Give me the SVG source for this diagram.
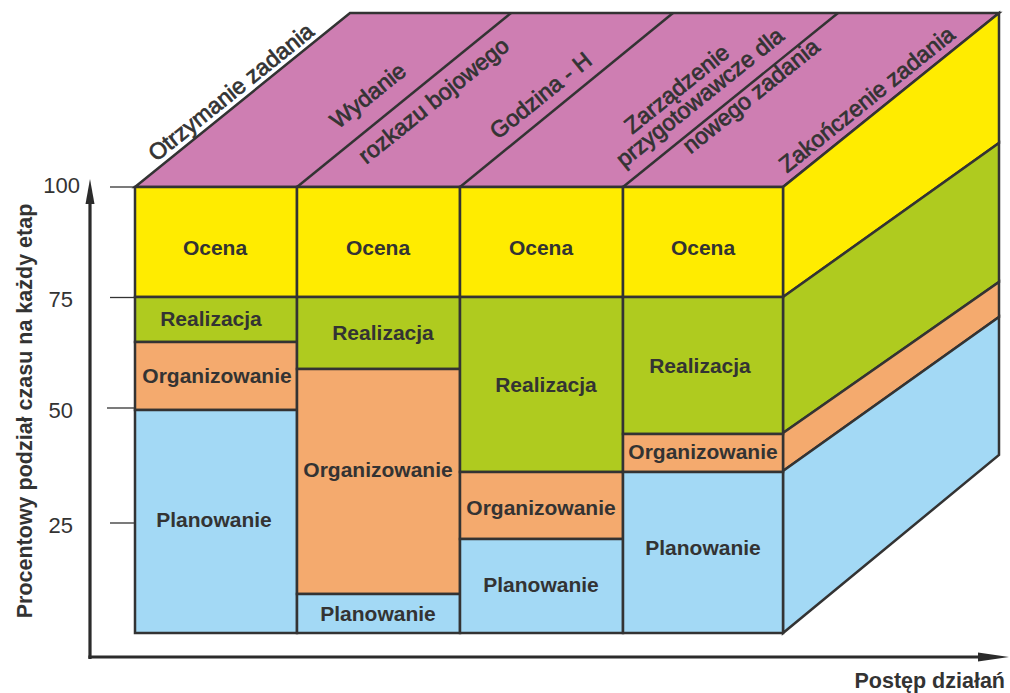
<svg xmlns="http://www.w3.org/2000/svg" width="1010" height="693" viewBox="0 0 1010 693">
  <style>
    .edge { stroke: #333; stroke-width: 2.5; stroke-linejoin: miter; }
    .top { fill: #CE7EB2; }
    .ocena { fill: #FFEC00; }
    .real { fill: #AFCB1F; }
    .org { fill: #F4AA6E; }
    .plan { fill: #A3D9F5; }
    .lbl { font-family: "Liberation Sans", Arial, sans-serif; font-weight: bold; font-size: 21px; fill: #333; text-anchor: middle; }
    .stage { font-family: "Liberation Sans", Arial, sans-serif; font-size: 23px; fill: #333; stroke: #333; stroke-width: 0.7; }
    .tick { stroke: #333; stroke-width: 1.3; }
    .num { font-family: "Liberation Sans", Arial, sans-serif; font-size: 22px; fill: #333; text-anchor: end; }
    .axtitle { font-family: "Liberation Sans", Arial, sans-serif; font-weight: bold; font-size: 21.5px; fill: #333; }
    .axis { stroke: #2b2b2b; stroke-width: 3.2; fill: none; }
  </style>

  <!-- top face with stage dividers -->
  <g id="top-face">
    <polygon class="top edge" points="135,187 350,13 999,13 783,187"/>
    <line class="edge" x1="297" y1="187" x2="511" y2="13"/>
    <line class="edge" x1="460" y1="187" x2="673" y2="13"/>
    <line class="edge" x1="623" y1="187" x2="838" y2="13"/>
  </g>

  <!-- stage names on the top face -->
  <g id="stage-labels">
    <g transform="translate(135,187) rotate(-38.8)">
      <text class="stage" x="32" y="-6">Otrzymanie zadania</text>
    </g>
    <g transform="translate(297,187) rotate(-38.8)">
      <text class="stage" x="68" y="-19">Wydanie</text>
      <text class="stage" x="68" y="26">rozkazu bojowego</text>
    </g>
    <g transform="translate(460,187) rotate(-38.8)">
      <text class="stage" x="59" y="-13">Godzina - H</text>
    </g>
    <g transform="translate(623,187) rotate(-38.8)">
      <text class="stage" x="40" y="-35">Zarządzenie</text>
      <text class="stage" x="12.5" y="-14">przygotowawcze dla</text>
      <text class="stage" x="73" y="17">nowego zadania</text>
    </g>
    <g transform="translate(783,187) rotate(-38.8)">
      <text class="stage" x="11.5" y="-8">Zakończenie zadania</text>
    </g>
  </g>

  <!-- right side face -->
  <g id="side-face">
    <polygon class="ocena edge" points="783,187 999,13 999,143 783,297"/>
    <polygon class="real edge" points="783,297 999,143 999,282 783,433"/>
    <polygon class="org edge" points="783,433 999,282 999,317 783,471"/>
    <polygon class="plan edge" points="783,471 999,317 999,455 783,633"/>
  </g>

  <!-- column 1 -->
  <g id="col1">
    <g id="col1-ocena"><rect class="ocena edge" x="135" y="187" width="162" height="110"/><text class="lbl" x="215" y="255">Ocena</text></g>
    <g id="col1-realizacja"><rect class="real edge" x="135" y="297" width="162" height="45"/><text class="lbl" x="211" y="326">Realizacja</text></g>
    <g id="col1-organizowanie"><rect class="org edge" x="135" y="342" width="162" height="68"/><text class="lbl" x="217" y="383">Organizowanie</text></g>
    <g id="col1-planowanie"><rect class="plan edge" x="135" y="410" width="162" height="223"/><text class="lbl" x="214" y="527">Planowanie</text></g>
  </g>

  <!-- column 2 -->
  <g id="col2">
    <g id="col2-ocena"><rect class="ocena edge" x="297" y="187" width="163" height="110"/><text class="lbl" x="378" y="255">Ocena</text></g>
    <g id="col2-realizacja"><rect class="real edge" x="297" y="297" width="163" height="72"/><text class="lbl" x="383" y="340">Realizacja</text></g>
    <g id="col2-organizowanie"><rect class="org edge" x="297" y="369" width="163" height="225"/><text class="lbl" x="378" y="477">Organizowanie</text></g>
    <g id="col2-planowanie"><rect class="plan edge" x="297" y="594" width="163" height="39"/><text class="lbl" x="378" y="621">Planowanie</text></g>
  </g>

  <!-- column 3 -->
  <g id="col3">
    <g id="col3-ocena"><rect class="ocena edge" x="460" y="187" width="163" height="110"/><text class="lbl" x="541" y="255">Ocena</text></g>
    <g id="col3-realizacja"><rect class="real edge" x="460" y="297" width="163" height="175"/><text class="lbl" x="546" y="392">Realizacja</text></g>
    <g id="col3-organizowanie"><rect class="org edge" x="460" y="472" width="163" height="67"/><text class="lbl" x="541" y="515">Organizowanie</text></g>
    <g id="col3-planowanie"><rect class="plan edge" x="460" y="539" width="163" height="94"/><text class="lbl" x="541" y="592">Planowanie</text></g>
  </g>

  <!-- column 4 -->
  <g id="col4">
    <g id="col4-ocena"><rect class="ocena edge" x="623" y="187" width="160" height="110"/><text class="lbl" x="703" y="255">Ocena</text></g>
    <g id="col4-realizacja"><rect class="real edge" x="623" y="297" width="160" height="137"/><text class="lbl" x="700" y="373">Realizacja</text></g>
    <g id="col4-organizowanie"><rect class="org edge" x="623" y="434" width="160" height="38"/><text class="lbl" x="703" y="459">Organizowanie</text></g>
    <g id="col4-planowanie"><rect class="plan edge" x="623" y="472" width="160" height="161"/><text class="lbl" x="703" y="555">Planowanie</text></g>
  </g>

  <!-- axes, scale ticks and titles -->
  <g id="connectors">
    <line class="axis" x1="90" y1="659" x2="90" y2="198"/>
    <polygon points="90,179 85.5,204 94.5,204" fill="#2b2b2b"/>
    <line class="axis" x1="88.4" y1="657" x2="982" y2="657"/>
    <polygon points="1009,657 978,652.5 978,661.5" fill="#2b2b2b"/>

    <line class="tick" x1="110" y1="187" x2="135" y2="187" stroke-width="2.5"/>
    <line class="tick" x1="110" y1="297.5" x2="135" y2="297.5"/>
    <line class="tick" x1="107" y1="408" x2="135" y2="408"/>
    <line class="tick" x1="110" y1="523" x2="135" y2="523"/>
  </g>

  <g id="scale">
    <text class="num" x="80" y="193">100</text>
    <text class="num" x="73" y="307">75</text>
    <text class="num" x="73" y="418">50</text>
    <text class="num" x="73" y="533">25</text>
  </g>

  <g id="axis-titles">
    <text class="axtitle" transform="translate(32,411) rotate(-90)" text-anchor="middle">Procentowy podział czasu na każdy etap</text>
    <text class="axtitle" x="1005" y="688" text-anchor="end">Postęp działań</text>
  </g>
</svg>
